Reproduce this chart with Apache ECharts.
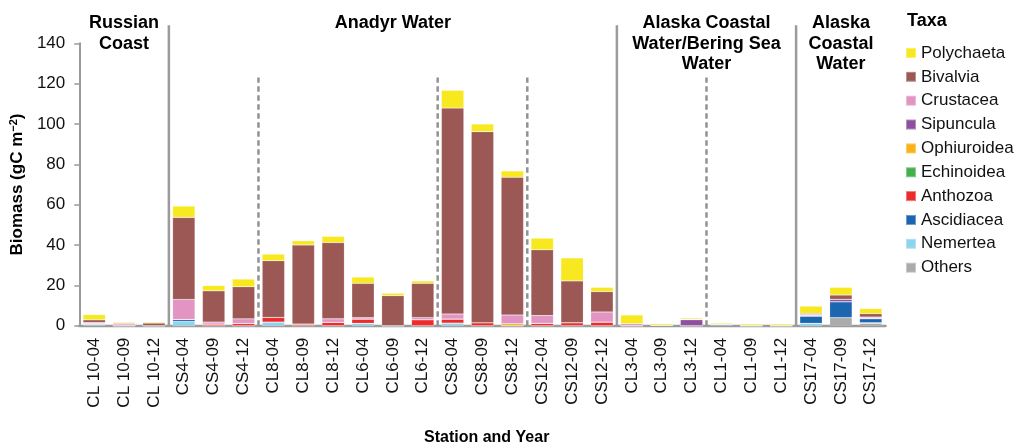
<!DOCTYPE html>
<html>
<head>
<meta charset="utf-8">
<script src="https://cdn.jsdelivr.net/npm/echarts@6/dist/echarts.min.js"></script>
<style>
  html, body { margin: 0; padding: 0; background: #fff; }
  #chart { width: 1022px; height: 448px; }
</style>
</head>
<body>
<div id="chart"></div>
<script>
const stations = ['CL 10-04', 'CL 10-09', 'CL 10-12', 'CS4-04', 'CS4-09', 'CS4-12', 'CL8-04', 'CL8-09', 'CL8-12',
  'CL6-04', 'CL6-09', 'CL6-12', 'CS8-04', 'CS8-09', 'CS8-12', 'CS12-04', 'CS12-09', 'CS12-12',
  'CL3-04', 'CL3-09', 'CL3-12', 'CL1-04', 'CL1-09', 'CL1-12', 'CS17-04', 'CS17-09', 'CS17-12'];

// biomass per taxon, gC m-2
const polychaeta = [2.6, 0.5, 0.5, 5.6, 2.6, 3.8, 3.3, 2.1, 3.1, 3.1, 1.2, 1.2, 8.8, 3.8, 3.1, 5.8, 11.4, 2.1, 4.3, 0.7, 0.6, 0.5, 0.7, 0.7, 3.6, 3.8, 2.5];
const bivalvia = [1.3, 0.4, 1.3, 40.7, 15.5, 15.9, 28.1, 39.2, 37.8, 17.0, 14.9, 17.0, 102.1, 94.7, 68.3, 32.6, 20.7, 10.1, 0, 0, 0.2, 0, 0, 0, 0.5, 2.1, 1.7];
const crustacea = [0.5, 0.8, 0, 9.9, 1.0, 2.3, 0, 0, 1.7, 0.7, 0, 1.0, 2.5, 0, 4.3, 3.8, 0, 5.0, 1.0, 0, 0, 0, 0, 0, 0.5, 0, 0.5];
const sipuncula = [0, 0, 0, 0, 0, 0, 0, 0, 0, 0, 0, 0, 0, 0, 0, 0, 0, 0, 0, 0, 3.0, 0, 0, 0, 0.3, 1.2, 0.3];
const ophiuroidea = [0, 0, 0, 0, 0, 0, 0, 0, 0, 0, 0, 0, 0, 0, 1.0, 0, 0, 0, 0, 0, 0, 0, 0, 0, 0, 0, 0];
const echinoidea = [0, 0, 0, 0, 0, 0, 0, 0, 0, 0, 0, 0, 0, 0, 0, 0, 0, 0, 0, 0, 0, 0, 0, 0, 0, 0, 0];
const anthozoa = [0.3, 0, 0, 0, 0.8, 1.1, 2.3, 0.8, 1.7, 2.1, 0, 3.0, 2.0, 1.5, 0, 1.2, 1.5, 1.8, 0, 0, 0, 0, 0, 0, 0, 0, 0];
const ascidiacea = [0, 0, 0, 1.0, 0, 0, 0, 0, 0, 0, 0, 0, 0, 0, 0, 0, 0, 0, 0, 0, 0, 0, 0, 0, 3.6, 7.9, 2.0];
const nemertea = [0.5, 0, 0, 2.1, 0, 0, 1.8, 0, 0, 1.2, 0, 0, 1.3, 0, 0, 0, 0, 0, 0, 0, 0, 0.5, 0, 0, 1.2, 0, 0.3];
const others = [0.3, 0, 0, 0, 0, 0, 0, 0, 0, 0, 0, 0, 0, 0, 0, 0, 0, 0, 0, 0.3, 0, 0.4, 0, 0, 0, 4.0, 1.2];

const yTicks = [0, 20, 40, 60, 80, 100, 120, 140];

// water mass regions (category index from / to) and station boundaries
const regions = [
  { name: 'Russian\nCoast', from: 0, to: 3 },
  { name: 'Anadyr Water', from: 3, to: 18 },
  { name: 'Alaska Coastal\nWater/Bering Sea\nWater', from: 18, to: 24 },
  { name: 'Alaska\nCoastal\nWater', from: 24, to: 27 }
];
const solidBounds = [3, 18, 24];
const dashedBounds = [6, 12, 15, 21];

const font = "'Liberation Sans', Arial, sans-serif";

// bottom to top
const taxa = [
  { name: 'Others', data: others, color: '#ababab' },
  { name: 'Nemertea', data: nemertea, color: '#8dd5ee' },
  { name: 'Ascidiacea', data: ascidiacea, color: '#1c66b0' },
  { name: 'Anthozoa', data: anthozoa, color: '#ee2b2b' },
  { name: 'Echinoidea', data: echinoidea, color: '#45b04b' },
  { name: 'Ophiuroidea', data: ophiuroidea, color: '#fbb117' },
  { name: 'Sipuncula', data: sipuncula, color: '#8e4f9f' },
  { name: 'Crustacea', data: crustacea, color: '#e294c3' },
  { name: 'Bivalvia', data: bivalvia, color: '#9c5854' },
  { name: 'Polychaeta', data: polychaeta, color: '#f7e81f' }
];

var chartDom = document.getElementById('chart');
var myChart = echarts.init(chartDom);
var option;

var series = taxa.map(t => ({
  name: t.name,
  type: 'bar',
  stack: 'total',
  barCategoryGap: '25%',
  itemStyle: { color: t.color, borderColor: 'rgba(255,255,255,0.35)', borderWidth: 0.5 },
  data: t.data
}));

var bounds = solidBounds.map(b => [b, 1]).concat(dashedBounds.map(b => [b, 0]));
series.push({
  type: 'custom',
  xAxisIndex: 1,
  yAxisIndex: 0,
  silent: true,
  clip: false,
  data: bounds,
  renderItem: function (params, api) {
    var solid = api.value(1) === 1;
    var bottom = api.coord([api.value(0), 0]);
    var top = api.coord([api.value(0), solid ? 149 : 123]);
    return {
      type: 'line',
      shape: { x1: bottom[0], y1: bottom[1], x2: top[0], y2: top[1] },
      style: { stroke: solid ? '#9b9b9b' : '#929292', lineWidth: 2.5, lineDash: solid ? null : [5.5, 3.5] }
    };
  }
});

series.push({
  type: 'custom',
  xAxisIndex: 1,
  yAxisIndex: 0,
  silent: true,
  clip: false,
  data: regions.map(r => [(r.from + r.to) / 2, r.name]),
  renderItem: function (params, api) {
    var p = api.coord([api.value(0), 0]);
    return {
      type: 'text',
      x: p[0],
      y: 13,
      style: {
        text: regions[params.dataIndex].name,
        fontFamily: font,
        fontWeight: 'bold',
        fontSize: 18,
        lineHeight: 20.5,
        fill: '#000',
        align: 'center',
        verticalAlign: 'top'
      }
    };
  }
});

option = {
  animation: false,
  grid: { left: 75.7, right: 136.3, top: 43.3, bottom: 122.3 },
  legend: {
    data: taxa.map(t => t.name).reverse(),
    orient: 'vertical',
    left: 900,
    top: 38,
    icon: 'rect',
    itemWidth: 10,
    itemHeight: 10,
    itemGap: 3.85,
    textStyle: { fontFamily: font, fontSize: 17, color: '#111', lineHeight: 20 }
  },
  graphic: [
    { type: 'text', left: 907, top: 12, style: { text: 'Taxa', fontFamily: font, fontWeight: 'bold', fontSize: 18, fill: '#000' } },
    { type: 'text', left: 424, top: 430, style: { text: 'Station and Year', fontFamily: font, fontWeight: 'bold', fontSize: 16, fill: '#000' } }
  ],
  xAxis: [
    {
      type: 'category',
      data: stations,
      axisLine: { lineStyle: { color: '#9b9b9b', width: 2.3 } },
      axisTick: { length: 5, lineStyle: { color: '#9b9b9b', width: 1.5 } },
      axisLabel: { rotate: 90, margin: 12, fontFamily: font, fontSize: 17, color: '#111', interval: 0 }
    },
    { type: 'value', min: 0, max: 27, show: false }
  ],
  yAxis: {
    type: 'value',
    min: yTicks[0],
    max: yTicks[yTicks.length - 1],
    interval: 20,
    name: '{b|Biomass (gC m}{s|−2}{b|)}',
    nameLocation: 'middle',
    nameGap: 50,
    nameTextStyle: {
      rich: {
        b: { fontFamily: font, fontWeight: 'bold', fontSize: 17, color: '#000' },
        s: { fontFamily: font, fontWeight: 'bold', fontSize: 11, color: '#000', verticalAlign: 'top', padding: [0, 0, 8, 0] }
      }
    },
    splitLine: { show: false },
    axisLine: { show: true, lineStyle: { color: '#9b9b9b', width: 2 } },
    axisTick: { show: true, length: 5, lineStyle: { color: '#9b9b9b', width: 1.5 } },
    axisLabel: { margin: 14, fontFamily: font, fontSize: 17, color: '#111' }
  },
  series: series
};

option && myChart.setOption(option);
</script>
</body>
</html>
